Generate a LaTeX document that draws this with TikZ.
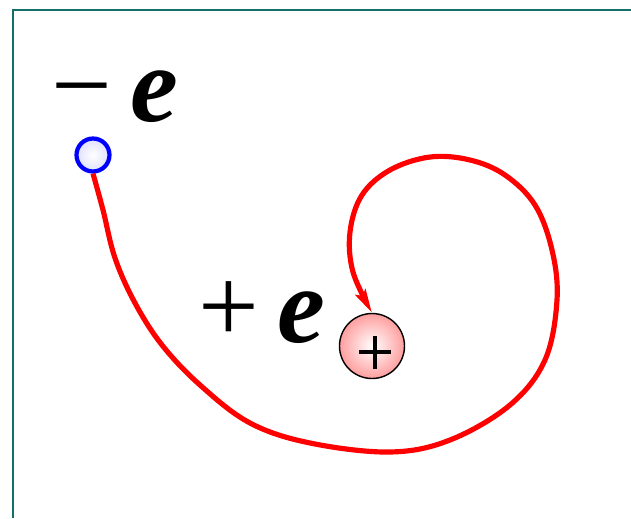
\documentclass[tikz,border=0pt]{standalone}
\usepackage{fontspec}
\setmainfont{Liberation Serif}
\usetikzlibrary{arrows.meta}
\definecolor{frameteal}{RGB}{20,110,105}
\tikzset{
    charge/.style={circle, inner sep=0pt},
    biglabel/.style={font=\fontsize{92}{92}\selectfont, inner sep=0pt},
}
\begin{document}
\begin{tikzpicture}[x=0.03cm, y=-0.03cm]
    \useasboundingbox (0,0) rectangle (631,518);

    % Frame
    \draw[frameteal, line width=1.8pt] (13,518) -- (13,10) -- (631,10);

    % Charges
    \node[charge, draw=blue, line width=3.6pt, inner color=white, outer color=blue!12,
          minimum size=33*0.03cm] (neg) at (93,155) {};
    \node[charge, draw=black, line width=1.2pt, inner color=white, outer color=red!38,
          minimum size=65*0.03cm] (pos) at (372,346) {};
    \draw[line width=2.6pt] ([xshift=-13*0.03cm, yshift=-6*0.03cm]pos.center) -- ([xshift=19*0.03cm, yshift=-6*0.03cm]pos.center);
    \draw[line width=2.6pt] ([xshift=3*0.03cm, yshift=10*0.03cm]pos.center) -- ([xshift=3*0.03cm, yshift=-23*0.03cm]pos.center);

    % Labels
    \node[biglabel] (neglabel) at (115,97) {−\,\textbf{\textit{e}}};
    \node[biglabel] (poslabel) at (262,313) {+\,\textbf{\textit{e}}};

    % Path
    \draw[red, line width=4.4pt, -{Stealth[length=7mm, width=3.4mm, inset=1.2mm]}]
        plot[smooth, tension=0.6] coordinates {(neg.south) (103,210) (115,258) (135,303) (162,345)
        (200,385) (250,423) (310,443) (390,452) (450,440) (510,405) (545,360) (557,300)
        (552,250) (535,205) (505,175) (470,160) (430,157) (390,170) (362,195) (350,232)
        (353,272) (pos.north)};
\end{tikzpicture}
\end{document}
